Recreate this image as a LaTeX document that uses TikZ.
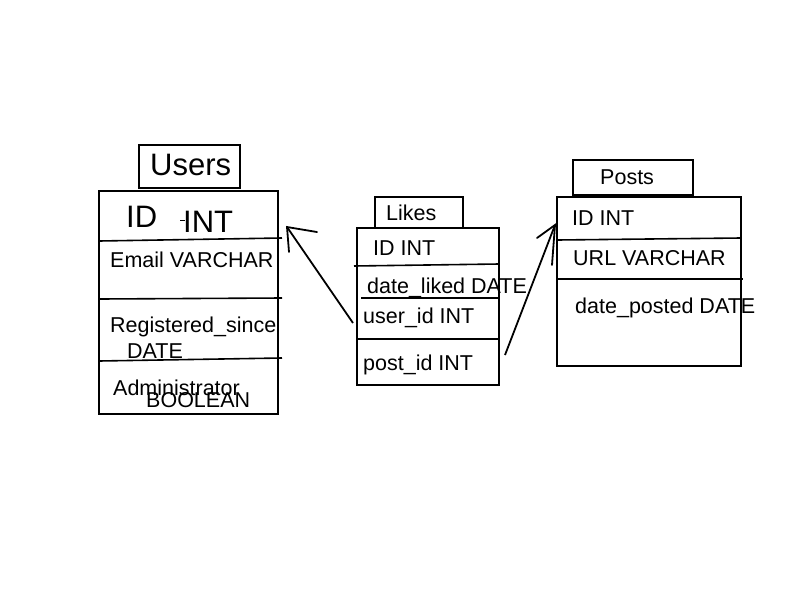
\documentclass[tikz,border=0pt]{standalone}
\usepackage{fontspec}
\setmainfont{Liberation Sans}
\begin{document}
\begin{tikzpicture}[x=1pt,y=-1pt,
  box/.style={draw=black,line width=2pt},
  sep/.style={draw=black,line width=1.6pt},
  lbl/.style={anchor=base west,inner sep=0pt,font=\fontsize{21.5}{21.5}\selectfont},
  big/.style={anchor=base west,inner sep=0pt,font=\fontsize{31}{31}\selectfont},
  conn/.style={draw=black,line width=1.8pt}]
\useasboundingbox[fill=white] (0,0) rectangle (800,600);
% Users
\draw[box] (139,145) rectangle (240,188);
\draw[box] (99,191) rectangle (278,414);
\draw[sep] (99,241) -- (282,238);
\draw[sep] (99,299) -- (282,298);
\draw[sep] (99,361) -- (282,358);
\node[big] (usersT) at (150,175) {Users};
\node[big] (uid) at (126,227) {ID};
\node[big] (uint) at (183,232) {INT};
\draw[line width=1pt] (180,220) -- (185,220);
\node[lbl] (uemail) at (110,267) {Email VARCHAR};
\node[lbl] (ureg) at (110,332) {Registered\_since};
\node[lbl] (udate) at (127,358) {DATE};
\node[lbl] (uadm) at (113,395) {Administrator};
\node[lbl] (ubool) at (146,407) {BOOLEAN};
% Likes
\draw[box] (375,197) rectangle (463,228);
\draw[box] (357,228) rectangle (499,385);
\draw[sep] (354,266) -- (499,264);
\draw[sep] (361,298) -- (499,298);
\draw[sep] (357,339) -- (500,339);
\node[lbl] (likesT) at (386,220) {Likes};
\node[lbl] (lid) at (373,255) {ID INT};
\node[lbl] (ldate) at (367,293) {date\_liked DATE};
\node[lbl] (luser) at (363,323) {user\_id INT};
\node[lbl] (lpost) at (363,370) {post\_id INT};
% Posts
\draw[box] (573,160) rectangle (693,195);
\draw[box] (557,197) rectangle (741,366);
\draw[sep] (557,240) -- (741,238);
\draw[sep] (557,279) -- (743,279);
\node[lbl] (postsT) at (600,184) {Posts};
\node[lbl] (pid) at (572,225) {ID INT};
\node[lbl] (purl) at (573,265) {URL VARCHAR};
\node[lbl] (pdate) at (575,313) {date\_posted DATE};
% connectors
\coordinate (a1s) at (353,323);
\coordinate (a1t) at (287,227);
\coordinate (a1h1) at (317,232);
\coordinate (a1h2) at (289,252);
\draw[conn] (a1s) -- (a1t);
\draw[conn,line cap=round] (a1h1) -- (a1t) -- (a1h2);
\coordinate (a2s) at (505,355);
\coordinate (a2t) at (555,225);
\coordinate (a2h1) at (537,238);
\coordinate (a2h2) at (552,265);
\draw[conn] (a2s) -- (a2t);
\draw[conn,line cap=round] (a2h1) -- (a2t) -- (a2h2);
\end{tikzpicture}
\end{document}
